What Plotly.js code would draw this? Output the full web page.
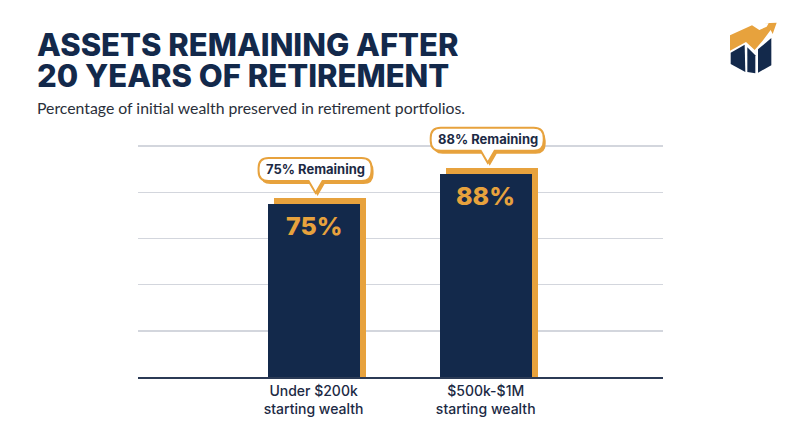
<!DOCTYPE html>
<html>
<head>
<meta charset="utf-8">
<script src="https://cdn.plot.ly/plotly-3.0.1.min.js"></script>
<style>html,body{margin:0;padding:0;background:#fff;}#chart{width:800px;height:447px;}</style>
</head>
<body>
<div id="chart"></div>
<script>
// ---- data ----
const categories = ["Under $200k<br>starting wealth", "$500k-$1M<br>starting wealth"];
const remainingPct = [75, 88];
const barLabels = ["75%", "88%"];
const calloutLabels = ["75% Remaining", "88% Remaining"];
const gridValues = [20, 40, 60, 80, 100];
const titleLines = ["ASSETS REMAINING AFTER", "20 YEARS OF RETIREMENT"];
const subtitle = "Percentage of initial wealth preserved in retirement portfolios.";

// ---- style ----
const NAVY = "#13294b", ORANGE = "#e7a23d", GRID = "#d3d6dd", TEXT = "#1c2a44";
const W = 800, H = 447;
const M = {l: 138, r: 137, t: 100, b: 70};
const PW = W - M.l - M.r, PH = H - M.t - M.b;
const XR = [-1.02, 2.03], YR = [0, 120];
const pxX = PW / (XR[1] - XR[0]);   // px per category unit
const pxY = PH / (YR[1] - YR[0]);   // px per value unit
const BW = 92 / pxX;                // bar width in category units
const SH_DX = 6, SH_DY = 6;         // shadow offset in px

const idx = categories.map((_, i) => i);

const shadowTrace = {
  type: "bar", x: idx, y: remainingPct.map(v => v + SH_DY / pxY),
  width: BW, offset: -BW / 2 + SH_DX / pxX,
  marker: {color: ORANGE, line: {width: 0}}, hoverinfo: "skip", showlegend: false
};
const barTrace = {
  type: "bar", x: idx, y: remainingPct, width: BW,
  marker: {color: NAVY, line: {width: 0}}, showlegend: false
};

function bubblePath(dx, dy) {
  const L = -55 + dx, R = 58 + dx, B = 23 + dy, T = 46 + dy, r = 10;
  const tx = 2 + dx, tip = 11 + dy;
  return `M${L + r},${T} H${R - r} Q${R},${T} ${R},${T - r} V${B + r} Q${R},${B} ${R - r},${B} ` +
         `H${tx + 7} L${tx},${tip} L${tx - 7},${B} H${L + r} Q${L},${B} ${L},${B + r} V${T - r} Q${L},${T} ${L + r},${T} Z`;
}

const shapes = [];
const annotations = [];
remainingPct.forEach((v, i) => {
  shapes.push({type: "path", xref: "x", yref: "y", xsizemode: "pixel", ysizemode: "pixel",
    xanchor: i, yanchor: v, path: bubblePath(2, -3), fillcolor: ORANGE, line: {width: 0}});
  shapes.push({type: "path", xref: "x", yref: "y", xsizemode: "pixel", ysizemode: "pixel",
    xanchor: i, yanchor: v, path: bubblePath(0, 0), fillcolor: "#ffffff", line: {color: ORANGE, width: 2}});
  annotations.push({x: i, y: v, xref: "x", yref: "y", text: calloutLabels[i], showarrow: false,
    xshift: 2, yshift: 34.5, yanchor: "middle",
    font: {family: "Inter, sans-serif", size: 13, weight: 700, color: TEXT}});
  annotations.push({x: i, y: v, xref: "x", yref: "y", text: barLabels[i], showarrow: false,
    yshift: -22, yanchor: "middle",
    font: {family: "Inter, sans-serif", size: 25, weight: 800, color: ORANGE}});
});

const px2x = p => (p - M.l) / PW;
const py2y = p => (H - M.b - p) / PH;

annotations.push({xref: "paper", yref: "paper", x: px2x(35), y: py2y(44), xanchor: "left", yanchor: "middle",
  height: 30, text: titleLines[0], showarrow: false, font: {family: "Inter, sans-serif", size: 31, weight: 800, color: NAVY}});
annotations.push({xref: "paper", yref: "paper", x: px2x(35), y: py2y(75), xanchor: "left", yanchor: "middle",
  height: 30, text: titleLines[1], showarrow: false, font: {family: "Inter, sans-serif", size: 31, weight: 800, color: NAVY}});
annotations.push({xref: "paper", yref: "paper", x: px2x(35), y: py2y(108), xanchor: "left", yanchor: "middle",
  text: subtitle, showarrow: false, font: {family: "Lato, sans-serif", size: 15.8, color: "#2a2f3a"}});

const logoSvg = `<svg xmlns="http://www.w3.org/2000/svg" viewBox="0 0 210 210">
<polygon points="32,128 74,104 76,186 32,162" fill="${NAVY}"/>
<polygon points="82,112 106,136 106,190 82,186" fill="${NAVY}"/>
<polygon points="114,118 154,84 154,166 114,188" fill="${NAVY}"/>
<polygon points="30,76 96,46 118,60 140,50 146,40 132,40 170,38 158,72 152,60 128,92 104,120 78,96 30,122" fill="${ORANGE}"/>
</svg>`;
const logoSrc = "data:image/svg+xml;charset=utf-8," + encodeURIComponent(logoSvg);

const layout = {
  width: W, height: H, margin: M,
  paper_bgcolor: "#ffffff", plot_bgcolor: "#ffffff",
  barmode: "overlay", bargap: 0,
  xaxis: {range: XR, tickmode: "array", tickvals: idx, ticktext: categories,
    showgrid: false, zeroline: false, showline: true, linecolor: "#2b3a55", linewidth: 2,
    ticks: "", tickfont: {family: "Inter, sans-serif", size: 14, weight: 500, color: TEXT}, fixedrange: true},
  yaxis: {range: YR, tickmode: "array", tickvals: gridValues, showgrid: true, gridcolor: GRID, gridwidth: 1.5,
    zeroline: false, showticklabels: false, ticks: "", fixedrange: true},
  shapes: shapes, annotations: annotations,
  images: [{source: logoSrc, xref: "paper", yref: "paper", x: px2x(720), y: py2y(10),
    sizex: 70 / PW, sizey: 70 / PH, sizing: "stretch", xanchor: "left", yanchor: "top", layer: "above"}]
};

Plotly.newPlot("chart", [shadowTrace, barTrace], layout, {displayModeBar: false, staticPlot: true});
</script>
</body>
</html>
